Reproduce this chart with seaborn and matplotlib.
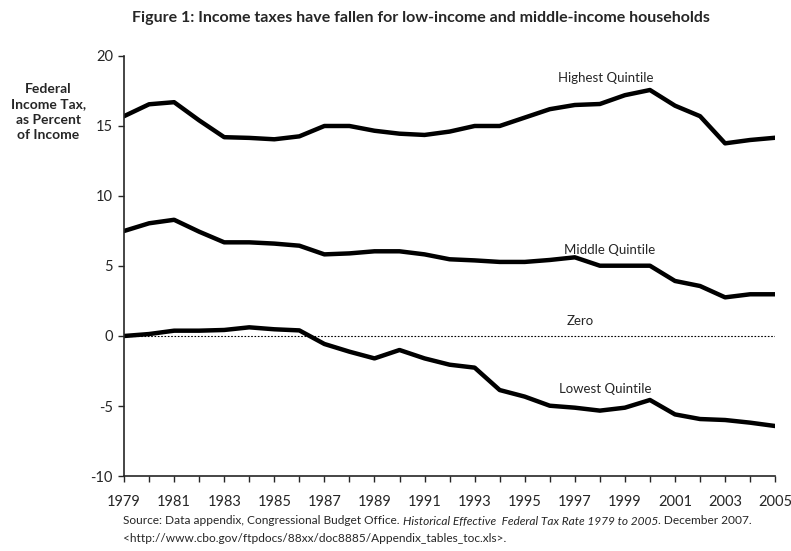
import matplotlib
matplotlib.use("Agg")
import matplotlib.pyplot as plt
import seaborn as sns
import pandas as pd
import numpy as np

years = list(range(1979, 2006))
highest = [15.7, 16.55, 16.7, 15.4, 14.2, 14.15, 14.05, 14.26, 15.0, 15.0, 14.66, 14.45, 14.36, 14.6,
           15.0, 15.0, 15.6, 16.2, 16.5, 16.57, 17.2, 17.57, 16.45, 15.7, 13.76, 14.0, 14.16]
middle = [7.5, 8.05, 8.3, 7.45, 6.69, 6.69, 6.6, 6.45, 5.83, 5.9, 6.05, 6.05, 5.83, 5.48,
          5.4, 5.29, 5.29, 5.43, 5.62, 5.02, 5.02, 5.02, 3.93, 3.57, 2.76, 2.98, 2.98]
lowest = [0.0, 0.14, 0.38, 0.38, 0.43, 0.62, 0.48, 0.4, -0.57, -1.12, -1.6, -1.0, -1.6, -2.05,
          -2.26, -3.86, -4.33, -4.98, -5.12, -5.33, -5.12, -4.57, -5.6, -5.93, -6.0, -6.19, -6.43]
series_names = ["Highest Quintile", "Middle Quintile", "Lowest Quintile"]
yticks = [-10, -5, 0, 5, 10, 15, 20]
xtick_labels = list(range(1979, 2006, 2))

sns.set_style("ticks")
plt.rcParams['font.family'] = ['Lato', 'DejaVu Sans']

df = pd.DataFrame({
    "year": years * 3,
    "value": highest + middle + lowest,
    "series": [series_names[0]] * len(years) + [series_names[1]] * len(years) + [series_names[2]] * len(years),
})

fig = plt.figure(figsize=(7.91, 5.51), dpi=100)
ax = fig.add_axes([0.1568, 0.1361, 0.8232, 0.7623])

sns.lineplot(data=df, x="year", y="value", hue="series", palette=["black"] * 3,
             linewidth=3.2, legend=False, ax=ax)
ax.plot([years[0], years[-1]], [0, 0], color="black", linewidth=0.8, linestyle=(0, (1.5, 1.5)))

ax.set_xlim(1979, 2005)
ax.set_ylim(-10, 20)
ax.set_yticks(yticks)
ax.set_yticklabels([str(v) for v in yticks], fontsize=10.5)
ax.set_xticks(years, minor=True)
ax.set_xticks(xtick_labels)
ax.set_xticklabels([str(v) for v in xtick_labels], fontsize=10.5)
ax.tick_params(axis='x', which='both', direction='out', length=4, width=1, pad=10)
ax.tick_params(axis='y', direction='out', length=4, width=1, pad=4)
ax.set_xlabel("")
ax.set_ylabel("")
for s in ["top", "right"]:
    ax.spines[s].set_visible(False)
for s in ["left", "bottom"]:
    ax.spines[s].set_linewidth(1.2)
ax.grid(False)

ax.text(1998.25, 18.4, "Highest Quintile", fontsize=9.5, ha="center", va="center")
ax.text(1998.4, 6.14, "Middle Quintile", fontsize=9.5, ha="center", va="center")
ax.text(1997.2, 1.1, "Zero", fontsize=9.5, ha="center", va="center")
ax.text(1998.2, -3.8, "Lowest Quintile", fontsize=9.5, ha="center", va="center")

fig.text(0.532, 0.967, "Figure 1: Income taxes have fallen for low-income and middle-income households",
         fontsize=11.5, fontweight="bold", ha="center", va="center")
fig.text(0.061, 0.797, "Federal\nIncome Tax,\nas Percent\nof Income", fontsize=10,
         fontweight="bold", ha="center", va="center", linespacing=1.35)

src_y1 = 1 - 521 / 551
src_y2 = 1 - 538 / 551
t1 = fig.text(0.156, src_y1, "Source: Data appendix, Congressional Budget Office. ", fontsize=8.6,
              ha="left", va="center")
fig.canvas.draw()
r = fig.canvas.get_renderer()
bb = t1.get_window_extent(renderer=r)
x2 = bb.x1 / fig.bbox.width
t2 = fig.text(x2, src_y1, "Historical Effective  Federal Tax Rate 1979 to 2005", fontsize=8.6,
              style="italic", ha="left", va="center")
bb2 = t2.get_window_extent(renderer=r)
x3 = bb2.x1 / fig.bbox.width
fig.text(x3, src_y1, ". December 2007.", fontsize=8.6, ha="left", va="center")
fig.text(0.156, src_y2, "<http://www.cbo.gov/ftpdocs/88xx/doc8885/Appendix_tables_toc.xls>.",
         fontsize=8.6, ha="left", va="center")

fig.savefig("out.png", dpi=100)
